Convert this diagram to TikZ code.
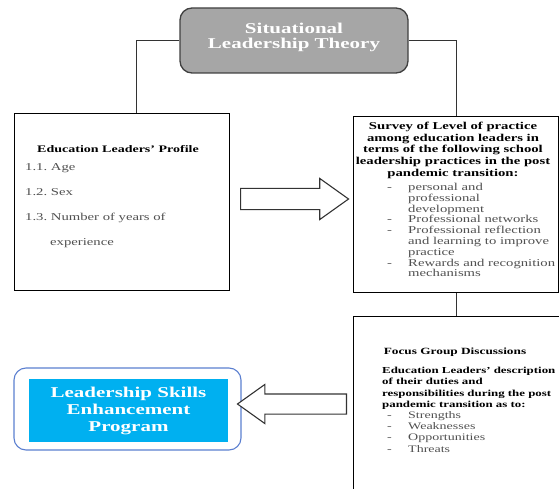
\documentclass[tikz,border=0pt]{standalone}
\usepackage{fontspec}
\setmainfont{Liberation Serif}[FakeStretch=1.4]
\usetikzlibrary{positioning,shapes.arrows}
\definecolor{titlegray}{HTML}{A6A6A6}
\definecolor{skyblue}{HTML}{00B0F0}
\definecolor{frameblue}{HTML}{5B7FD0}
\definecolor{listgray}{HTML}{505050}
\newcommand{\listdash}{\makebox[21pt][l]{-}}
\newcommand{\listgap}{\hspace*{21pt}}

\begin{document}
\begin{tikzpicture}[x=1pt, y=-1pt]
% Define styles
\tikzstyle{box} = [rectangle, draw=black, line width=1.1pt, inner sep=0pt]
\tikzstyle{link} = [draw=black!80, line width=1pt]
\tikzstyle{blockarrow} = [single arrow, draw=black!80, line width=1.1pt, fill=white, inner xsep=0pt, single arrow tip angle=71]
\tikzstyle{heading} = [inner sep=0pt, font=\fontsize{10.5}{11.7}\selectfont\bfseries, align=center]
\tikzstyle{items} = [inner sep=0pt, anchor=north west, align=left, text=listgray]

\useasboundingbox (0,0) rectangle (559,489);

% Draw nodes
\node [box, rounded corners=12pt, fill=titlegray, draw=black!75, line width=1.3pt, minimum width=228pt, minimum height=65pt, text=white, align=center, font=\fontsize{15}{15}\selectfont\bfseries] (title) at (294,40.5) {Situational\\Leadership Theory\\[-6pt]};

\node [box, minimum width=215pt, minimum height=177pt, anchor=north west] (profile) at (14,113) {};
\node [font=\fontsize{10}{12}\selectfont\bfseries, inner sep=0pt] (profilehead) at (118,149) {Education Leaders' Profile};
\node [items, font=\fontsize{10.5}{25}\selectfont] (profilelist) at (25,163) {1.1.\ Age\\1.2.\ Sex\\1.3.\ Number of years of\\\hspace*{25pt}experience};

\node [box, minimum width=205pt, minimum height=176pt, anchor=north west] (survey) at (353,116) {};
\node [heading, anchor=north] (surveyhead) at (453,122) {Survey of Level of practice\\among education leaders in\\terms of the following school\\leadership practices in the post\\pandemic transition:};
\node [items, font=\fontsize{10.5}{10.8}\selectfont] (surveylist) at (387,183) {\listdash personal and\\\listgap professional\\\listgap development\\\listdash Professional networks\\\listdash Professional reflection\\\listgap and learning to improve\\\listgap practice\\\listdash Rewards and recognition\\\listgap mechanisms};

\node [box, minimum width=220pt, minimum height=190pt, anchor=north west] (focus) at (353,316) {};
\node [font=\fontsize{9.5}{11}\selectfont\bfseries, inner sep=0pt] (focushead) at (455,352) {Focus Group Discussions};
\node [inner sep=0pt, anchor=north west, align=left, font=\fontsize{9.2}{11.3}\selectfont\bfseries] (focustext) at (382,367) {Education Leaders' description\\of their duties and\\responsibilities during the post\\pandemic transition as to:};
\node [items, font=\fontsize{10}{11.3}\selectfont] (focuslist) at (387,411) {\listdash Strengths\\\listdash Weaknesses\\\listdash Opportunities\\\listdash Threats};

\node [draw=frameblue, line width=1.1pt, rounded corners=12pt, minimum width=227pt, minimum height=82pt] (program) at (127.5,409) {};
\node [fill=skyblue, minimum width=199pt, minimum height=63pt, text=white, align=center, font=\fontsize{15}{17}\selectfont\bfseries] (programtext) at (128.5,410.5) {Leadership Skills\\Enhancement\\Program};

% Draw arrows
\node [blockarrow, anchor=tail, minimum height=108pt, inner ysep=10pt, single arrow head extend=10pt] (tosurvey) at (240,199) {};
\node [blockarrow, anchor=tail, shape border rotate=180, minimum height=109pt, inner ysep=9.5pt, single arrow head extend=9.5pt] (toprogram) at (347,404) {};

\draw [link] (title.west) -| ([xshift=14.5pt]profile.north);
\draw [link] (title.east) -| (survey.north);
\draw [link] (survey.south) -- (survey.south |- focus.north);
\end{tikzpicture}
\end{document}
